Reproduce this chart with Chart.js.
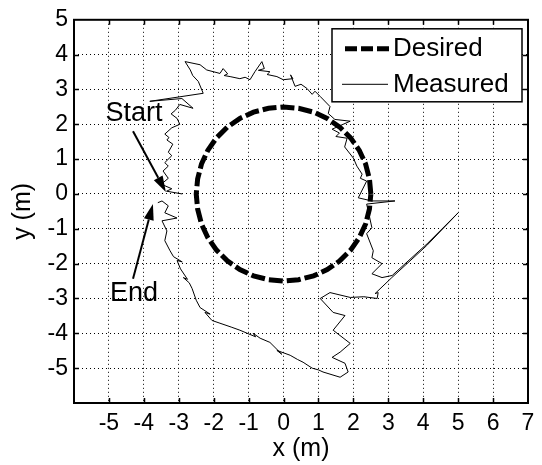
<!DOCTYPE html>
<html>
<head>
<meta charset="utf-8">
<script src="https://cdn.jsdelivr.net/npm/chart.js@4.4.1/dist/chart.umd.min.js"></script>
<style>
html, body { margin: 0; padding: 0; background: #fff; }
</style>
</head>
<body>
<canvas id="myChart" width="542" height="465"></canvas>
<script>
// desired path: circle of radius 2.5 m, every 10 degrees
var desiredX = [2.50, 2.46, 2.35, 2.17, 1.92, 1.61, 1.25, 0.86, 0.43, 0.00, -0.43, -0.86, -1.25, -1.61, -1.92, -2.17, -2.35, -2.46,
                -2.50, -2.46, -2.35, -2.17, -1.92, -1.61, -1.25, -0.86, -0.43, 0.00, 0.43, 0.86, 1.25, 1.61, 1.92, 2.17, 2.35, 2.46, 2.50];
var desiredY = [0.00, 0.43, 0.86, 1.25, 1.61, 1.92, 2.17, 2.35, 2.46, 2.50, 2.46, 2.35, 2.17, 1.92, 1.61, 1.25, 0.86, 0.43,
                0.00, -0.43, -0.86, -1.25, -1.61, -1.92, -2.17, -2.35, -2.46, -2.50, -2.46, -2.35, -2.17, -1.92, -1.61, -1.25, -0.86, -0.43, 0.00];

// measured path (start near (-3.3, 0), clockwise)
var measuredX = [
  -2.90, -3.35, -3.20, -3.50, -3.30, -3.45, -3.30, -3.40, -3.20, -3.30, -3.17, -3.34, -3.28, -3.40, -3.20, -2.97,
  -3.05, -3.22, -3.10, -2.97, -2.59, -2.91, -3.83, -2.30, -2.44, -2.60, -2.67, -2.82, -2.39, -2.20, -1.82, -1.73,
  -1.60, -1.70, -1.53, -1.25, -1.10, -0.96, -0.82, -0.62, -0.55, -0.72, -0.39, -0.47, -0.19, -0.01, 0.27, 0.20,
  0.33, 0.50, 0.67, 0.82, 0.90, 1.05, 1.33, 1.28, 1.47, 1.91, 1.39, 1.60, 1.50, 1.82, 1.75, 2.00,
  2.10, 2.25, 2.20, 2.38, 2.14, 2.53, 3.19, 2.38, 2.45, 2.53, 2.38, 2.57, 2.53, 2.82, 2.53, 2.82,
  3.11, 4.11, 5.00, 4.10, 3.10, 2.62, 2.71, 2.68, 2.30, 1.91, 1.33, 1.05, 1.42, 1.76, 1.42, 1.91,
  1.62, 1.39, 1.76, 1.85, 1.62, 1.13, 1.00, 0.82, 0.56, 0.40, 0.19, -0.19, -0.05, -0.39, -0.67, -0.87, -0.80, -1.25,
  -1.50, -1.82, -2.05, -2.25, -2.10, -2.39, -2.50, -2.62, -2.70, -2.87, -2.75, -2.95, -3.05, -2.90, -3.15, -3.25, -3.40, -3.34, -3.48,
  -3.05, -3.40, -3.30, -3.48, -3.60
];
var measuredY = [
  0.00, 0.08, 0.15, 0.28, 0.45, 0.66, 0.80, 0.90, 1.10, 1.20, 1.43, 1.55, 1.62, 1.72, 1.90, 2.00,
  2.17, 2.30, 2.40, 2.57, 2.46, 2.74, 2.66, 2.89, 3.23, 3.40, 3.56, 3.80, 3.71, 3.56, 3.46, 3.60,
  3.45, 3.40, 3.37, 3.31, 3.35, 3.28, 3.51, 3.80, 3.60, 3.55, 3.51, 3.43, 3.37, 3.28, 3.31, 3.42,
  3.09, 3.15, 3.03, 2.86, 2.95, 2.80, 2.51, 2.31, 2.14, 2.09, 1.86, 1.75, 1.65, 1.60, 1.35, 1.03,
  0.80, 0.57, 0.45, 0.37, -0.11, -0.20, -0.20, -0.29, -0.60, -0.97, -1.14, -1.63, -1.83, -2.00, -2.29, -2.40,
  -2.34, -1.43, -0.54, -1.48, -2.40, -2.86, -2.83, -3.00, -2.95, -2.97, -2.83, -3.00, -3.40, -3.49, -3.91, -4.29,
  -4.54, -4.69, -4.86, -5.11, -5.26, -5.11, -5.05, -5.00, -4.83, -4.75, -4.63, -4.49, -4.60, -4.26, -4.14, -4.00, -4.10, -3.91,
  -3.82, -3.71, -3.63, -3.40, -3.45, -3.26, -3.05, -2.71, -2.55, -2.40, -2.45, -2.15, -1.91, -1.95, -1.80, -1.63, -1.34, -1.06, -0.77,
  -0.69, -0.54, -0.34, -0.20, -0.25
];

var xMin = -6, xMax = 7, yMin = -6, yMax = 5;
var tickFont = 23, titleFont = 25;

function pts(xs, ys) {
  return xs.map(function (x, i) { return { x: x, y: ys[i] }; });
}

var fontFamily = "'Liberation Sans', Arial, sans-serif";

var framePlugin = {
  id: 'frame',
  afterDraw: function (chart) {
    var ctx = chart.ctx, a = chart.chartArea, sx = chart.scales.x, sy = chart.scales.y;
    ctx.save();
    ctx.strokeStyle = '#000';
    ctx.lineWidth = 2;
    ctx.strokeRect(a.left, a.top, a.right - a.left, a.bottom - a.top);
    // inward tick marks on all four sides
    ctx.lineWidth = 1.5;
    ctx.beginPath();
    for (var v = xMin + 1; v < xMax; v++) {
      var px = Math.round(sx.getPixelForValue(v)) + 0.5;
      ctx.moveTo(px, a.bottom); ctx.lineTo(px, a.bottom - 5);
      ctx.moveTo(px, a.top); ctx.lineTo(px, a.top + 5);
    }
    for (var w = yMin + 1; w < yMax; w++) {
      var py = Math.round(sy.getPixelForValue(w)) + 0.5;
      ctx.moveTo(a.left, py); ctx.lineTo(a.left + 5, py);
      ctx.moveTo(a.right, py); ctx.lineTo(a.right - 5, py);
    }
    ctx.stroke();

    // annotations
    ctx.fillStyle = '#000';
    ctx.font = '27px ' + fontFamily;
    ctx.textAlign = 'center';
    ctx.textBaseline = 'middle';
    ctx.fillText('Start', sx.getPixelForValue(-4.28), sy.getPixelForValue(2.30));
    ctx.fillText('End', sx.getPixelForValue(-4.28), sy.getPixelForValue(-2.85));
    arrow(ctx, sx.getPixelForValue(-4.31), sy.getPixelForValue(1.80), sx.getPixelForValue(-3.37), sy.getPixelForValue(0.06));
    arrow(ctx, sx.getPixelForValue(-4.31), sy.getPixelForValue(-2.43), sx.getPixelForValue(-3.74), sy.getPixelForValue(-0.29));

    // legend box in the top right corner
    var bx = a.right - 196, by = a.top + 9, bw = 190, bh = 73;
    ctx.fillStyle = '#fff';
    ctx.fillRect(bx, by, bw, bh);
    ctx.lineWidth = 1.5;
    ctx.strokeRect(bx, by, bw, bh);
    var ds = chart.data.datasets;
    ctx.lineWidth = 5;
    ctx.setLineDash([12, 4]);
    ctx.beginPath(); ctx.moveTo(bx + 13, by + 20); ctx.lineTo(bx + 58, by + 20); ctx.stroke();
    ctx.setLineDash([]);
    ctx.lineWidth = 1;
    ctx.beginPath(); ctx.moveTo(bx + 10, by + 55.5); ctx.lineTo(bx + 56, by + 55.5); ctx.stroke();
    ctx.fillStyle = '#000';
    ctx.font = '26px ' + fontFamily;
    ctx.textAlign = 'left';
    ctx.fillText(ds[0].label, bx + 61, by + 20);
    ctx.fillText(ds[1].label, bx + 61, by + 56);
    ctx.restore();
  }
};

function arrow(ctx, x1, y1, x2, y2) {
  var ang = Math.atan2(y2 - y1, x2 - x1), len = 16, half = 5;
  ctx.lineWidth = 2;
  ctx.beginPath();
  ctx.moveTo(x1, y1);
  ctx.lineTo(x2 - len * Math.cos(ang), y2 - len * Math.sin(ang));
  ctx.stroke();
  ctx.beginPath();
  ctx.moveTo(x2, y2);
  ctx.lineTo(x2 - len * Math.cos(ang) + half * Math.sin(ang), y2 - len * Math.sin(ang) - half * Math.cos(ang));
  ctx.lineTo(x2 - len * Math.cos(ang) - half * Math.sin(ang), y2 - len * Math.sin(ang) + half * Math.cos(ang));
  ctx.closePath();
  ctx.fill();
}

new Chart(document.getElementById("myChart"), {
  type: "scatter",
  data: {
    datasets: [
      {
        label: "Desired",
        data: pts(desiredX, desiredY),
        showLine: true,
        borderColor: "#000",
        backgroundColor: "#000",
        borderWidth: 5,
        borderDash: [14, 4],
        pointRadius: 0,
        tension: 0,
        order: 1
      },
      {
        label: "Measured",
        data: pts(measuredX, measuredY),
        showLine: true,
        borderColor: "#000",
        backgroundColor: "#000",
        borderWidth: 1,
        pointRadius: 0,
        tension: 0,
        order: 0
      }
    ]
  },
  options: {
    responsive: false,
    animation: false,
    layout: { padding: { left: 0, right: 14, top: 18, bottom: 0 } },
    plugins: { legend: { display: false }, tooltip: { enabled: false } },
    scales: {
      x: {
        type: "linear",
        min: xMin,
        max: xMax,
        afterFit: function (s) { s.height = 62; },
        ticks: {
          stepSize: 1,
          color: "#000",
          padding: 7,
          font: { family: fontFamily, size: tickFont },
          maxRotation: 0,
          callback: function (v) { return v === xMin ? "" : v; }
        },
        grid: { color: "#000", lineWidth: 1, drawTicks: false },
        border: { display: false, dash: [1, 3] },
        title: { display: true, text: "x (m)", color: "#000", font: { family: fontFamily, size: titleFont, lineHeight: 1 }, padding: { top: 0, bottom: 3 } }
      },
      y: {
        type: "linear",
        min: yMin,
        max: yMax,
        afterFit: function (s) { s.width = 74; },
        ticks: {
          stepSize: 1,
          color: "#000",
          padding: 6,
          font: { family: fontFamily, size: tickFont },
          callback: function (v) { return v === yMin ? "" : v; }
        },
        grid: { color: "#000", lineWidth: 1, drawTicks: false },
        border: { display: false, dash: [1, 3] },
        title: { display: true, text: "y (m)", color: "#000", font: { family: fontFamily, size: titleFont, lineHeight: 1 }, padding: { top: 11, bottom: 0 } }
      }
    }
  },
  plugins: [framePlugin]
});
</script>
</body>
</html>
